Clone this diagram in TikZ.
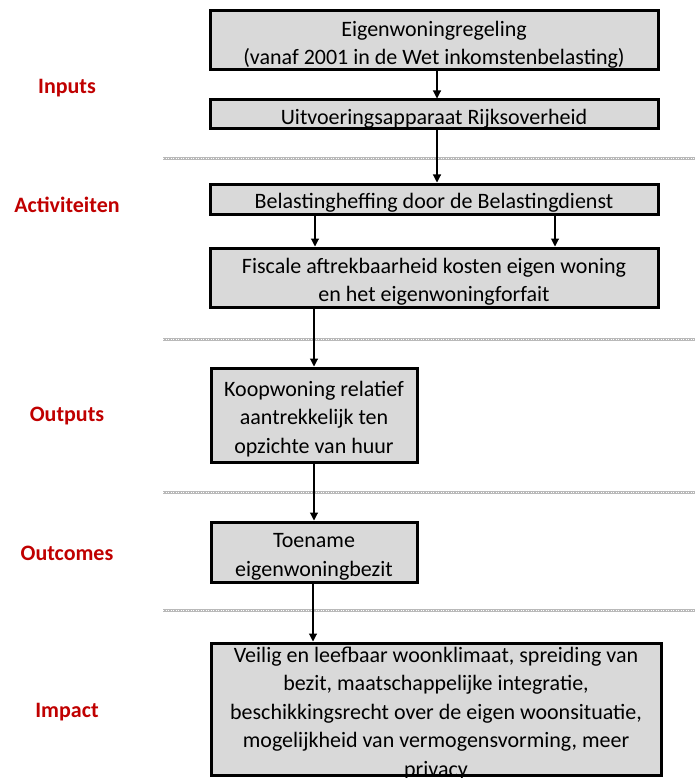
\documentclass[tikz,border=0pt]{standalone}
\usepackage{fontspec}
\setmainfont{Carlito}
\usetikzlibrary{positioning}
\usetikzlibrary{arrows.meta}
\definecolor{phasered}{HTML}{C00000}
\definecolor{boxgray}{HTML}{D9D9D9}
\newcommand{\boxstrut}{\rule{0pt}{23.5pt}}

\begin{document}
\begin{tikzpicture}[x=1pt,y=-1pt]
\tikzstyle{block}=[draw=black,line width=3pt,fill=boxgray,align=center,inner sep=0pt,font=\fontsize{22}{28.5}\selectfont]
\tikzstyle{blocktext}=[align=center,inner sep=0pt,font=\fontsize{22}{28.5}\selectfont]
\tikzstyle{phase}=[text=phasered,font=\fontsize{22}{27}\selectfont\bfseries]
\tikzstyle{flow}=[line width=1.1pt,-{Triangle[width=8pt,length=8pt]}]
\tikzstyle{divider}=[line width=3pt,draw=gray!55]
\tikzstyle{dividerdots}=[line width=1pt,draw=white,dash pattern=on 1pt off 1.5pt]
\useasboundingbox (0,0) rectangle (695,778);
%%%%%%%%%%%%%%%%%%%%%%%%%%%%%%%%%%%%%%%%%%%%%%%%%%%%%%%%%%%%%%%%%%%%%%%%%%%%%%%%%%%%%%%%
%% Draw phase separators and labels
%%%%%%%%%%%%%%%%%%%%%%%%%%%%%%%%%%%%%%%%%%%%%%%%%%%%%%%%%%%%%%%%%%%%%%%%%%%%%%%%%%%%%%%%
\draw[divider] (163,159) -- (695,159);
\draw[divider] (163,339) -- (695,339);
\draw[divider] (163,492) -- (695,492);
\draw[divider] (163,610) -- (695,610);
\draw[dividerdots] (163,159) -- (695,159);
\draw[dividerdots] (163,339) -- (695,339);
\draw[dividerdots] (163,492) -- (695,492);
\draw[dividerdots] (163,610) -- (695,610);

\node[phase] (inputs) at (67,88) {Inputs};
\node[phase] (activiteiten) at (67,205) {Activiteiten};
\node[phase] (outputs) at (67,416) {Outputs};
\node[phase] (outcomes) at (67,553) {Outcomes};
\node[phase] (impact) at (67,712) {Impact};
%%%%%%%%%%%%%%%%%%%%%%%%%%%%%%%%%%%%%%%%%%%%%%%%%%%%%%%%%%%%%%%%%%%%%%%%%%%%%%%%%%%%%%%%

%%%%%%%%%%%%%%%%%%%%%%%%%%%%%%%%%%%%%%%%%%%%%%%%%%%%%%%%%%%%%%%%%%%%%%%%%%%%%%%%%%%%%%%%
%% Draw boxes
%%%%%%%%%%%%%%%%%%%%%%%%%%%%%%%%%%%%%%%%%%%%%%%%%%%%%%%%%%%%%%%%%%%%%%%%%%%%%%%%%%%%%%%%
\node[block,minimum width=448,minimum height=59] (regeling) at (434,40.5)
  {\boxstrut Eigenwoningregeling\\(vanaf 2001 in de Wet inkomstenbelasting)};
\node[block,minimum width=448,minimum height=29] (apparaat) at (434,114.5)
  {\boxstrut Uitvoeringsapparaat Rijksoverheid};
\node[block,minimum width=448,minimum height=30] (heffing) at (434,199)
  {\boxstrut Belastingheffing door de Belastingdienst};
\node[block,minimum width=448,minimum height=59] (aftrek) at (434,277.5)
  {\boxstrut Fiscale aftrekbaarheid kosten eigen woning\\en het eigenwoningforfait};
\node[block,minimum width=206,minimum height=94] (koop) at (314,415)
  {\boxstrut Koopwoning relatief\\aantrekkelijk ten\\opzichte van huur};
\node[block,minimum width=206,minimum height=60] (toename) at (314,552)
  {\boxstrut Toename\\eigenwoningbezit};
% impact box: text runs over the bottom edge
\node[block,minimum width=450,minimum height=132,outer sep=0pt] (effect) at (436,709) {};
\node[blocktext,below=3.5pt of effect.north] (effecttext)
  {Veilig en leefbaar woonklimaat, spreiding van\\bezit, maatschappelijke integratie,\\beschikkingsrecht over de eigen woonsituatie,\\mogelijkheid van vermogensvorming, meer\\privacy};
\draw[line width=3pt] (effect.north west) rectangle (effect.south east);
%%%%%%%%%%%%%%%%%%%%%%%%%%%%%%%%%%%%%%%%%%%%%%%%%%%%%%%%%%%%%%%%%%%%%%%%%%%%%%%%%%%%%%%%

%%%%%%%%%%%%%%%%%%%%%%%%%%%%%%%%%%%%%%%%%%%%%%%%%%%%%%%%%%%%%%%%%%%%%%%%%%%%%%%%%%%%%%%%
%%% Draw connections
%%%%%%%%%%%%%%%%%%%%%%%%%%%%%%%%%%%%%%%%%%%%%%%%%%%%%%%%%%%%%%%%%%%%%%%%%%%%%%%%%%%%%%%%
\draw[flow] ([xshift=3pt]regeling.south) -- ([xshift=3pt]apparaat.north);
\draw[flow] ([xshift=3pt]apparaat.south) -- ([xshift=3pt]heffing.north);
\draw[flow] ([xshift=-119pt]heffing.south) -- ([xshift=-119pt]aftrek.north);
\draw[flow] ([xshift=121pt]heffing.south) -- ([xshift=121pt]aftrek.north);
\draw[flow] (koop.north |- aftrek.south) -- (koop.north);
\draw[flow] (koop.south) -- (toename.north);
\draw[flow] ([xshift=-1pt]toename.south) -- ([xshift=-1pt,yshift=1.5pt]toename.south |- effect.north);
%%%%%%%%%%%%%%%%%%%%%%%%%%%%%%%%%%%%%%%%%%%%%%%%%%%%%%%%%%%%%%%%%%%%%%%%%%%%%%%%%%%%%%%%

\end{tikzpicture}
\end{document}
